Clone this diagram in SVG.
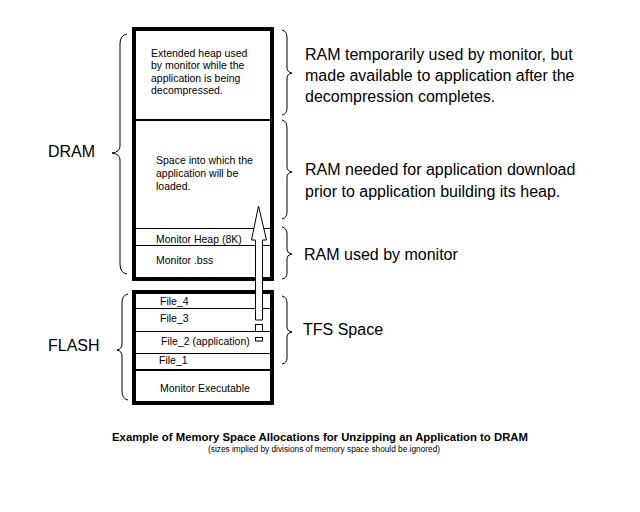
<svg xmlns="http://www.w3.org/2000/svg" width="640" height="512" viewBox="0 0 640 512">
<style>
.box{fill:#fff;stroke:#000;stroke-width:4}
.div{stroke:#000;stroke-width:1;shape-rendering:crispEdges}
.brace{fill:none;stroke:#000;stroke-width:1}
.sm{font-family:"Liberation Sans",Arial,sans-serif;font-size:10.5px;fill:#000}
.lg{font-family:"Liberation Sans",Arial,sans-serif;font-size:16px;fill:#000}
.ttl{font-family:"Liberation Sans",Arial,sans-serif;font-size:11px;font-weight:bold;fill:#000}
.sub{font-family:"Liberation Sans",Arial,sans-serif;font-size:8.5px;fill:#000}
.arrow{fill:#fff;stroke:#000;stroke-width:1}
</style>
<rect width="640" height="512" fill="#fff"/>
<g id="dram">
<rect class="box" x="134" y="29" width="138" height="250"/>
<line class="div" x1="136" y1="119.5" x2="270" y2="119.5" style="stroke-width:2"/>
<line class="div" x1="136" y1="228.5" x2="270" y2="228.5"/>
<line class="div" x1="136" y1="245.5" x2="270" y2="245.5"/>
<text class="sm" x="151" y="56.5">Extended heap used</text>
<text class="sm" x="151" y="69">by monitor while the</text>
<text class="sm" x="151" y="81.5">application is being</text>
<text class="sm" x="151" y="94">decompressed.</text>
<text class="sm" x="156" y="163.5">Space into which the</text>
<text class="sm" x="156" y="176.5">application will be</text>
<text class="sm" x="156" y="189.5">loaded.</text>
<text class="sm" x="156" y="242.5">Monitor Heap (8K)</text>
<text class="sm" x="156" y="263.5">Monitor .bss</text>
</g>
<g id="flash">
<rect class="box" x="134" y="292" width="138" height="111"/>
<line class="div" x1="136" y1="308.5" x2="270" y2="308.5"/>
<line class="div" x1="136" y1="331.5" x2="270" y2="331.5"/>
<line class="div" x1="136" y1="353.5" x2="270" y2="353.5"/>
<line class="div" x1="136" y1="370" x2="270" y2="370" style="stroke-width:2"/>
<text class="sm" x="160" y="305">File_4</text>
<text class="sm" x="160" y="322">File_3</text>
<text class="sm" x="161" y="345">File_2 (application)</text>
<text class="sm" x="159" y="364">File_1</text>
<text class="sm" x="160" y="392">Monitor Executable</text>
</g>
<g id="connectors">
<polygon class="arrow" points="258.5,206 266.5,240 262.5,240 262.5,320 255.5,320 255.5,240 251.5,240"/>
<rect class="arrow" x="255.5" y="324.5" width="7" height="7"/>
<rect class="arrow" x="255.5" y="337.5" width="7" height="3.5"/>
</g>
<g id="braces">
<path class="brace" d="M127,34 Q120,35 120,44 L120,146 Q120,152 112,153 Q120,154 120,160 L120,264 Q120,273 127,274"/>
<path class="brace" d="M128,294 Q122,295 122,303 L122,344 Q122,349 117,350 Q122,351 122,356 L122,391 Q122,399 128,400"/>
<path class="brace" d="M282,30 Q287,31 287,38 L287,68 Q287,72 292,73 Q287,74 287,78 L287,108 Q287,114 282,115"/>
<path class="brace" d="M282,120 Q287,121 287,128 L287,167 Q287,171 292,172 Q287,173 287,177 L287,212 Q287,218 282,219"/>
<path class="brace" d="M282,227 Q287,228 287,234 L287,250 Q287,253 292,254 Q287,255 287,258 L287,273 Q287,278 282,279"/>
<path class="brace" d="M282,296 Q287,297 287,303 L287,328 Q287,331 292,332 Q287,333 287,336 L287,358 Q287,363 282,364"/>
</g>
<g id="labels">
<text class="lg" x="48" y="157">DRAM</text>
<text class="lg" x="48" y="351">FLASH</text>
<text class="lg" x="305" y="60">RAM temporarily used by monitor, but</text>
<text class="lg" x="305" y="81">made available to application after the</text>
<text class="lg" x="305" y="101.5">decompression completes.</text>
<text class="lg" x="305" y="175">RAM needed for application download</text>
<text class="lg" x="305" y="196.5">prior to application building its heap.</text>
<text class="lg" x="304" y="260">RAM used by monitor</text>
<text class="lg" x="303" y="335">TFS Space</text>
<text class="ttl" x="112" y="441" textLength="416" lengthAdjust="spacingAndGlyphs">Example of Memory Space Allocations for Unzipping an Application to DRAM</text>
<text class="sub" x="208" y="452" textLength="232" lengthAdjust="spacingAndGlyphs">(sizes implied by divisions of memory space should be ignored)</text>
</g>
</svg>
